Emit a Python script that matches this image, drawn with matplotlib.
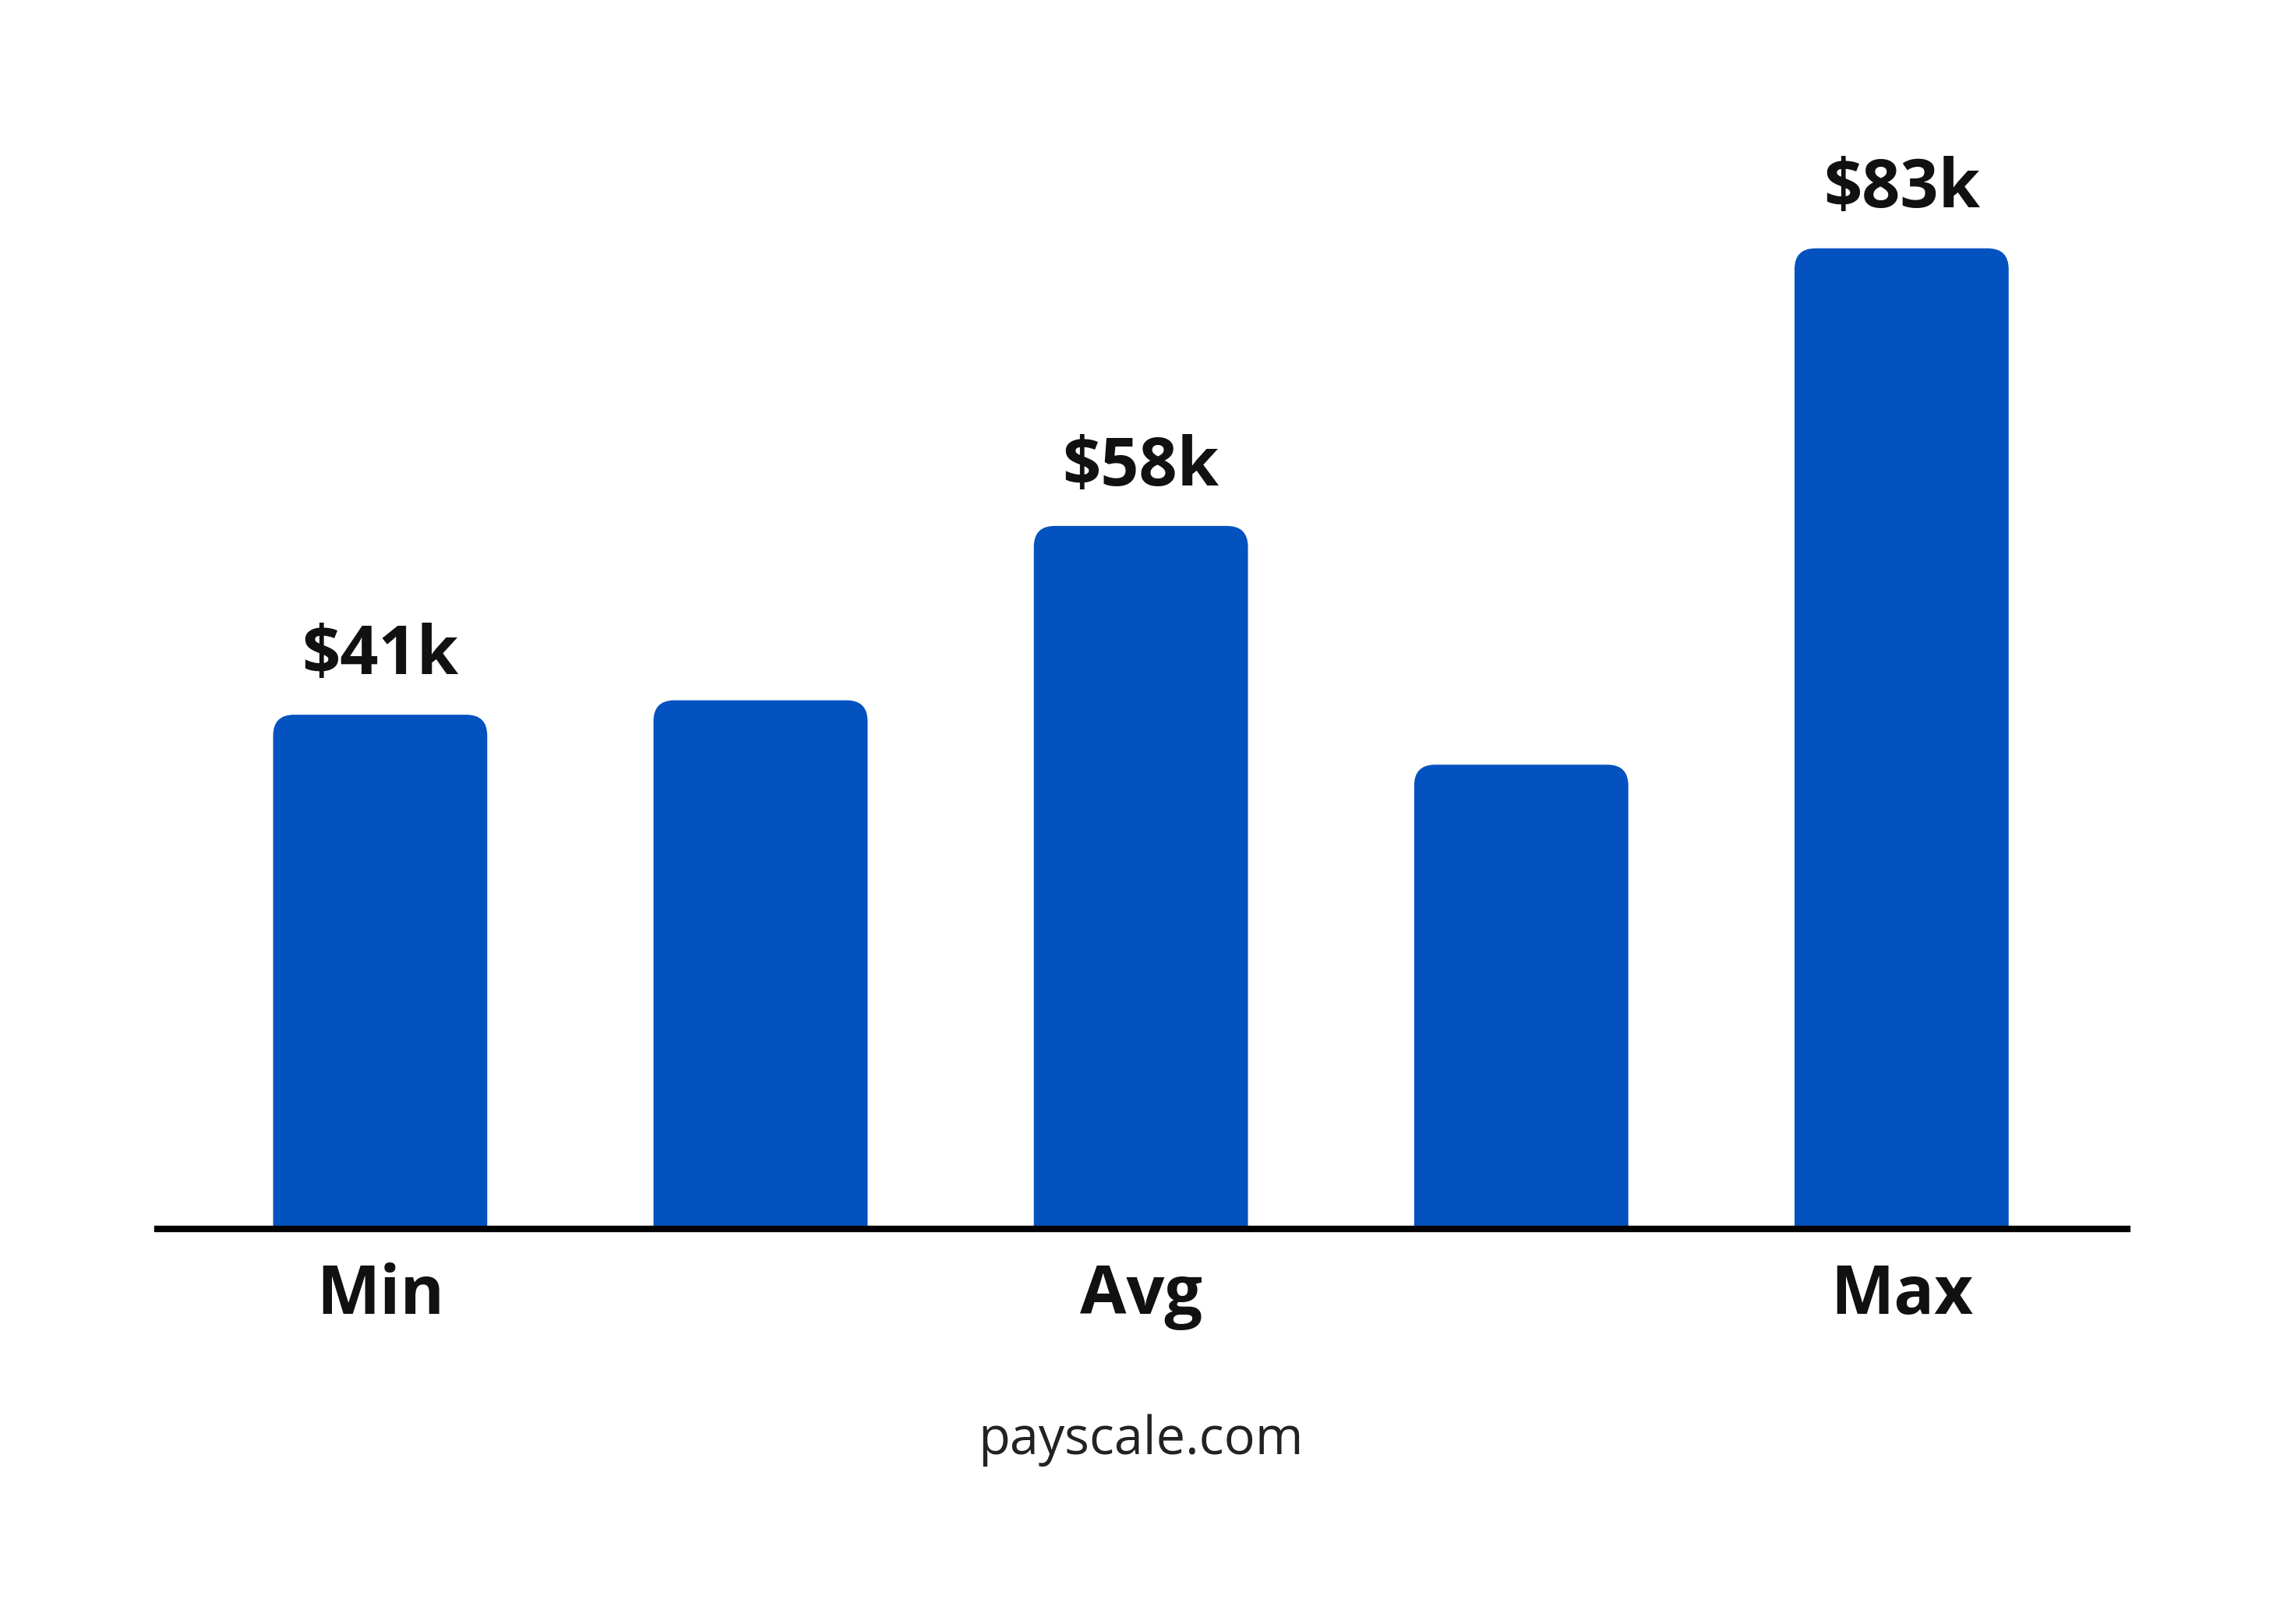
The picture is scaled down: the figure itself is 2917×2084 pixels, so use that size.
import matplotlib.pyplot as plt
from matplotlib.patches import FancyBboxPatch

values = [41, 42.3, 58, 36.5, 83]
tick_labels = ["Min", "", "Avg", "", "Max"]
value_labels = ["$41k", "", "$58k", "", "$83k"]

base = -5.3
color = "#0452C0"
width = 0.563

fig = plt.figure(figsize=(14.585, 10.42), dpi=200)
ax = fig.add_axes([0.0692, 0.2433, 0.8668, 0.6667])
ax.set_xlim(-0.586, 4.594)
ax.set_ylim(base, 92.2)
ax.axis("off")

# aspect: data units per pixel in y vs x
fig.canvas.draw()
bbox = ax.get_window_extent()
aspect = ((92.2 - base) / bbox.height) / ((4.594 + 0.586) / bbox.width)

for i, v in enumerate(values):
    p = FancyBboxPatch((i - width / 2, base - 5), width, v - base + 5,
                       boxstyle="round,pad=0,rounding_size=0.055",
                       mutation_aspect=aspect, fc=color, ec="none", clip_on=True)
    ax.add_patch(p)
    if value_labels[i]:
        ax.text(i, v + 2.2, value_labels[i], ha="center", va="bottom",
                fontsize=31, fontweight="bold", family="Open Sans", color="#111111")
    if tick_labels[i]:
        ax.text(i, base - 3, tick_labels[i], ha="center", va="top",
                fontsize=31, fontweight="bold", family="Open Sans", color="#111111",
                clip_on=False)

ax.plot([-0.586, 4.594], [base, base], color="black", lw=3, clip_on=False)

fig.text(0.502, 0.113, "payscale.com", ha="center", va="center",
         fontsize=24, family="Open Sans", color="#222222")

fig.savefig("out.png", dpi=200, facecolor="white")
